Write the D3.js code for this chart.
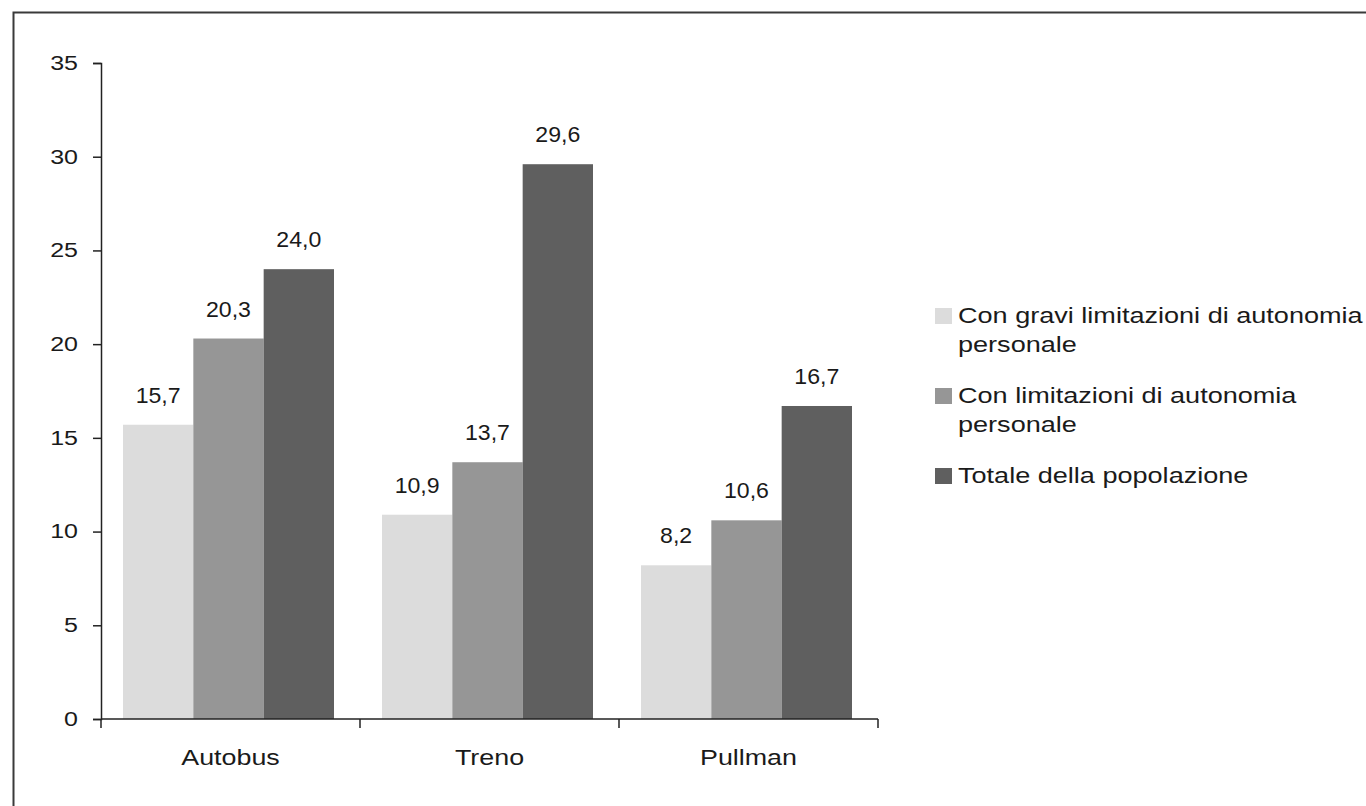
<!DOCTYPE html>
<html>
<head>
<meta charset="utf-8">
<script src="https://cdn.jsdelivr.net/npm/d3@7"></script>
<style>
  html, body { margin: 0; padding: 0; background: #fff; }
  svg { display: block; }
  text { font-family: "Liberation Sans", Arial, sans-serif; fill: #1a1a1a; }
</style>
</head>
<body>
<svg id="chart" width="1366" height="806"></svg>
<script>
// Mezzi di trasporto utilizzati (%), per tipo di limitazione
const categories = ["Autobus", "Treno", "Pullman"];
const seriesNames = [
  ["Con gravi limitazioni di autonomia", "personale"],
  ["Con limitazioni di autonomia", "personale"],
  ["Totale della popolazione"]
];
const seriesKeys = ["gravi", "limitazioni", "totale"];
const graviValues = [15.7, 10.9, 8.2];
const limitazioniValues = [20.3, 13.7, 10.6];
const totaleValues = [24.0, 29.6, 16.7];
const yTicks = [0, 5, 10, 15, 20, 25, 30, 35];
const colors = ["#dcdcdc", "#969696", "#5f5f5f"];

const rows = categories.map((c, i) => ({
  category: c,
  gravi: graviValues[i],
  limitazioni: limitazioniValues[i],
  totale: totaleValues[i]
}));

const svg = d3.select("#chart");
const fmt = v => d3.format(".1f")(v).replace(".", ",");

// stretch a text element horizontally by a factor of its natural width
function stretch(sel, k) {
  sel.each(function () {
    const w = this.getComputedTextLength();
    this.setAttribute("textLength", w * k);
    this.setAttribute("lengthAdjust", "spacingAndGlyphs");
  });
}

// outer frame (top and left edges)
svg.append("path")
  .attr("d", "M13.5,1366 V12.5 H1366")
  .attr("fill", "none")
  .attr("stroke", "#3a3a3a")
  .attr("stroke-width", 2);

const plotLeft = 101, plotRight = 878, plotTop = 63, plotBottom = 719;

const x = d3.scaleBand().domain(categories).range([plotLeft, plotRight]).padding(0);
const x1 = d3.scaleBand().domain(seriesKeys).range([22, 233]).padding(0);
const y = d3.scaleLinear().domain([0, 35]).range([plotBottom, plotTop]);

// bars
const groups = svg.append("g").selectAll("g")
  .data(rows).join("g")
  .attr("transform", d => `translate(${x(d.category)},0)`);

groups.selectAll("rect")
  .data(d => seriesKeys.map((k, i) => ({ key: k, i, value: d[k] })))
  .join("rect")
  .attr("x", d => x1(d.key))
  .attr("y", d => y(d.value))
  .attr("width", x1.bandwidth())
  .attr("height", d => y(0) - y(d.value))
  .attr("fill", d => colors[d.i]);

// value labels
groups.selectAll("text.val")
  .data(d => seriesKeys.map((k, i) => ({ key: k, i, value: d[k] })))
  .join("text")
  .attr("class", "val")
  .attr("x", d => x1(d.key) + x1.bandwidth() / 2)
  .attr("y", d => y(d.value) - 22)
  .attr("text-anchor", "middle")
  .style("font-size", "22px")
  .text(d => fmt(d.value))
  .call(stretch, 1.05);

// y axis
const yAxis = svg.append("g")
  .attr("transform", `translate(${plotLeft},0)`)
  .call(d3.axisLeft(y).tickValues(yTicks).tickSize(8).tickPadding(15).tickFormat(d3.format("d")));
yAxis.select(".domain").attr("stroke", "#222").attr("stroke-width", 1.5);
yAxis.selectAll(".tick line").attr("stroke", "#222").attr("stroke-width", 1.5);
yAxis.selectAll(".tick text")
  .attr("fill", "#1a1a1a")
  .style("font-size", "20px")
  .style("font-family", "'Liberation Sans', Arial, sans-serif")
  .call(stretch, 1.25);

// x axis baseline with tick marks at category boundaries
const xAxis = svg.append("g");
xAxis.append("line")
  .attr("x1", plotLeft).attr("x2", plotRight)
  .attr("y1", y(0)).attr("y2", y(0))
  .attr("stroke", "#222").attr("stroke-width", 1.5);
const boundaries = categories.map(c => x(c)).concat([x.range()[1]]);
xAxis.selectAll("line.tk")
  .data(boundaries).join("line")
  .attr("class", "tk")
  .attr("x1", d => d).attr("x2", d => d)
  .attr("y1", y(0)).attr("y2", y(0) + 9)
  .attr("stroke", "#222").attr("stroke-width", 1.5);
xAxis.selectAll("text")
  .data(categories).join("text")
  .attr("x", d => x(d) + x.bandwidth() / 2)
  .attr("y", 765)
  .attr("text-anchor", "middle")
  .style("font-size", "22px")
  .text(d => d)
  .call(stretch, 1.22);

// legend
const legendY = [323, 403, 483];
const legend = svg.append("g").selectAll("g")
  .data(seriesNames).join("g")
  .attr("transform", (d, i) => `translate(935,${legendY[i]})`);
legend.append("rect")
  .attr("x", 0).attr("y", -15)
  .attr("width", 17).attr("height", 16)
  .attr("fill", (d, i) => colors[i]);
legend.each(function (lines) {
  const g = d3.select(this);
  lines.forEach((t, j) => {
    g.append("text")
      .attr("x", 23)
      .attr("y", j * 29)
      .style("font-size", "22px")
      .text(t)
      .call(stretch, 1.23);
  });
});
</script>
</body>
</html>
